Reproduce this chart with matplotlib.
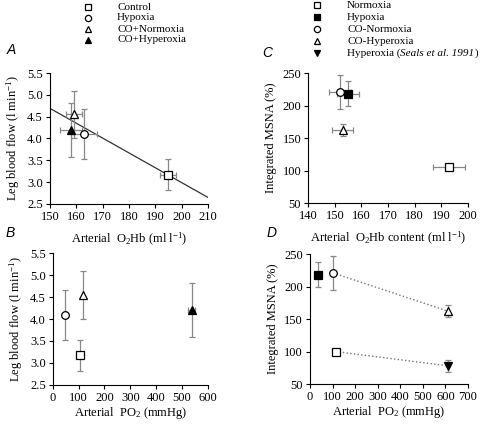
import matplotlib.pyplot as plt
import numpy as np
from matplotlib.lines import Line2D
from matplotlib.ticker import FormatStrFormatter

plt.rcParams['font.family'] = ['Liberation Serif', 'DejaVu Serif']
plt.rcParams['font.size'] = 8
plt.rcParams['mathtext.fontset'] = 'custom'
plt.rcParams['mathtext.rm'] = 'Liberation Serif'
plt.rcParams['mathtext.it'] = 'Liberation Serif:italic'

# panel A / B : leg blood flow
flow_names = ['Control', 'Hypoxia', 'CO+Normoxia', 'CO+Hyperoxia']
flow_o2hb = [195, 163, 159, 158]
flow_o2hb_err = [3, 5, 3, 4]
flow_po2 = [105, 47, 118, 537]
flow_po2_err = [0, 0, 0, 15]
flow = [3.17, 4.10, 4.55, 4.20]
flow_err = [0.35, 0.57, 0.54, 0.62]
fit_x = [150, 210]
fit_y = [4.69, 2.65]

# panel C / D : MSNA
msna_names = ['Normoxia', 'Hypoxia', 'CO-Normoxia', 'CO-Hyperoxia']
msna_o2hb = [193, 155, 152, 153]
msna_o2hb_err = [6, 4, 4, 4]
msna_po2 = [113, 37, 101, 612]
msna = [105, 218, 221, 162]
msna_d = [100, 218, 221, 162]
msna_err = [0, 19, 26, 9]
seals_po2 = 612
seals_msna = 78
seals_err = 9

flow_markers = [('s', 'white'), ('o', 'white'), ('^', 'white'), ('^', 'black')]
msna_markers = [('s', 'white'), ('s', 'black'), ('o', 'white'), ('^', 'white')]

fig = plt.figure(figsize=(4.8, 4.32), dpi=100)
axA = fig.add_axes([0.104, 0.528, 0.329, 0.303])
axC = fig.add_axes([0.642, 0.530, 0.333, 0.301])
axB = fig.add_axes([0.110, 0.109, 0.323, 0.305])
axD = fig.add_axes([0.646, 0.111, 0.329, 0.301])

ecol = '#888888'

def style(ax):
    for s in ['top', 'right']:
        ax.spines[s].set_visible(False)
    ax.tick_params(direction='out', length=3, width=0.8, labelsize=9, pad=2)

def pt(ax, x, y, xe, ye, m, fc, ms=5.5):
    ax.errorbar(x, y, xerr=xe if xe else None, yerr=ye if ye else None,
                fmt='none', ecolor=ecol, elinewidth=0.9, capsize=2.5, capthick=0.9, zorder=2)
    ax.plot(x, y, m, mfc=fc, mec='black', ms=ms, mew=0.9, zorder=3)

# A
for i in range(4):
    m, fc = flow_markers[i]
    pt(axA, flow_o2hb[i], flow[i], flow_o2hb_err[i], flow_err[i], m, fc)
axA.plot(fit_x, fit_y, color='#333333', lw=0.9, zorder=1)
axA.set_xlim(150, 210)
axA.set_ylim(2.5, 5.5)
axA.set_xticks(np.arange(150, 211, 10))
axA.set_yticks(np.arange(2.5, 5.6, 0.5))
axA.yaxis.set_major_formatter(FormatStrFormatter('%.1f'))
axA.set_xlabel('Arterial  O$_2$Hb (ml l$^{-1}$)', fontsize=9, labelpad=6)
axA.set_ylabel('Leg blood flow (l min$^{-1}$)', fontsize=9)
style(axA)

# B
for i in range(4):
    m, fc = flow_markers[i]
    pt(axB, flow_po2[i], flow[i], flow_po2_err[i], flow_err[i], m, fc)
axB.set_xlim(0, 600)
axB.set_ylim(2.5, 5.5)
axB.set_xticks(np.arange(0, 601, 100))
axB.set_yticks(np.arange(2.5, 5.6, 0.5))
axB.yaxis.set_major_formatter(FormatStrFormatter('%.1f'))
axB.set_xlabel('Arterial  PO$_2$ (mmHg)', fontsize=9, labelpad=1)
axB.set_ylabel('Leg blood flow (l min$^{-1}$)', fontsize=9)
style(axB)

# C
for i in range(4):
    m, fc = msna_markers[i]
    pt(axC, msna_o2hb[i], msna[i], msna_o2hb_err[i], msna_err[i], m, fc)
axC.set_xlim(140, 200)
axC.set_ylim(50, 250)
axC.set_xticks(np.arange(140, 201, 10))
axC.set_yticks(np.arange(50, 251, 50))
axC.set_xlabel('Arterial  O$_2$Hb content (ml l$^{-1}$)', fontsize=9, labelpad=6)
axC.set_ylabel('Integrated MSNA (%)', fontsize=9)
style(axC)

# D
axD.plot([msna_po2[2], msna_po2[3]], [msna_d[2], msna_d[3]], ':', color='#777777', lw=1.0, zorder=1)
axD.plot([msna_po2[0], seals_po2], [msna_d[0], seals_msna], ':', color='#777777', lw=1.0, zorder=1)
for i in range(4):
    m, fc = msna_markers[i]
    pt(axD, msna_po2[i], msna_d[i], 0, msna_err[i], m, fc)
pt(axD, seals_po2, seals_msna, 0, seals_err, 'v', 'black')
axD.set_xlim(0, 700)
axD.set_ylim(50, 250)
axD.set_xticks(np.arange(0, 701, 100))
axD.set_yticks(np.arange(50, 251, 50))
axD.set_xlabel('Arterial  PO$_2$ (mmHg)', fontsize=9, labelpad=1)
axD.set_ylabel('Integrated MSNA (%)', fontsize=9)
style(axD)

# panel letters
for lab, x, y in [('A', 7, 50), ('C', 262, 53), ('B', 6, 233), ('D', 267, 233)]:
    fig.text(x / 480, 1 - y / 432, lab, fontsize=10, style='italic',
             family='Liberation Sans', va='center')

# legends
for i, name in enumerate(flow_names):
    m, fc = flow_markers[i]
    y = 1 - (7 + 11 * i) / 432
    fig.lines.append(Line2D([88 / 480], [y], marker=m, mfc=fc, mec='black', ms=4.5, mew=0.9,
                            transform=fig.transFigure))
    fig.text(117 / 480, y, name, fontsize=8, va='center')

leg2 = msna_names + ['Hyperoxia (']
mk2 = msna_markers + [('v', 'black')]
for i, name in enumerate(leg2):
    m, fc = mk2[i]
    y = 1 - (5 + 12 * i) / 432
    fig.lines.append(Line2D([317 / 480], [y], marker=m, mfc=fc, mec='black', ms=4.5, mew=0.9,
                            transform=fig.transFigure))
    t = fig.text(347 / 480, y, name, fontsize=8, va='center')
t2 = axC.annotate('Seals et al. 1991', xy=(1, 0.5), xycoords=t, va='center', ha='left',
                  fontsize=8, style='italic', annotation_clip=False)
axC.annotate(')', xy=(1, 0.5), xycoords=t2, va='center', ha='left', fontsize=8,
             annotation_clip=False)

fig.savefig('out.png', dpi=100)
